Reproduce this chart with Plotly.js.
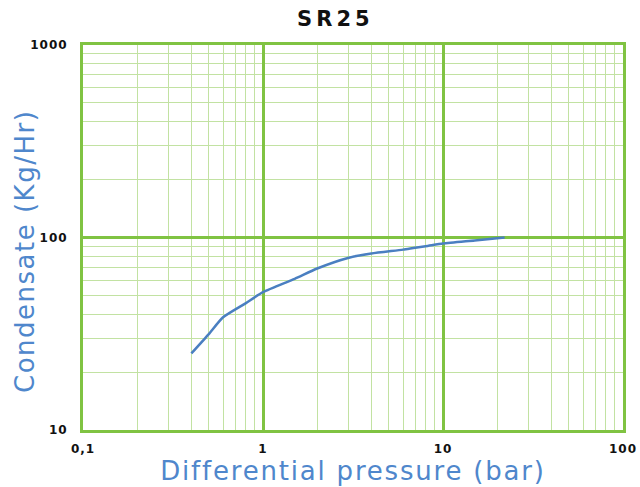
<!DOCTYPE html>
<html><head><meta charset="utf-8">
<script src="https://cdn.plot.ly/plotly-3.0.1.min.js"></script>
<style>
html,body{margin:0;padding:0;background:#fff}#chart{width:640px;height:487px}
.gtitle{letter-spacing:4px}
.xtitle{letter-spacing:1.8px}
.annotation-text{letter-spacing:1.5px}
.xtick text,.ytick text{letter-spacing:1px}
</style>
</head><body><div id="chart"></div>
<script>
const pressure = [0.4, 0.5, 0.6, 0.8, 1.0, 1.5, 2.0, 3.0, 4.0, 6.0, 7.0, 8.0, 10.0, 15.0, 22.0];
const condensate = [25, 31.5, 38.5, 45.5, 52, 61, 69, 78.5, 82.5, 86.5, 88.5, 90, 93, 96.5, 100];
const xTickVals = [0.1, 1, 10, 100];
const xTickText = ["0,1", "1", "10", "100"];
const yTickVals = [10, 100, 1000];
const yTickText = ["10", "100", "1000"];
const yTitle = 'Condensate (Kg/Hr)';
const xTitle = 'Differential pressure (bar)';

const majorGreen = '#80c342';
const minorGreen = '#c2e2a2';
const blue = '#4f87cc';

const trace = {
  x: pressure, y: condensate, type: 'scatter', mode: 'lines',
  line: {color: '#4a7fc1', width: 2.5, shape: 'spline', smoothing: 0.6},
  hoverinfo: 'skip'
};

const axisCommon = {
  type: 'log',
  showline: true, linecolor: majorGreen, linewidth: 3, mirror: true,
  showgrid: true, gridcolor: majorGreen, gridwidth: 3,
  ticks: '', zeroline: false,
  tickfont: {family: 'DejaVu Sans', size: 12, color: '#111', weight: 'bold'},
  minor: {dtick: 'D1', showgrid: true, gridcolor: minorGreen, gridwidth: 1, ticks: ''}
};

const layout = {
  width: 640, height: 487,
  margin: {l: 83, r: 17, t: 45, b: 57},
  paper_bgcolor: '#fff', plot_bgcolor: '#fff',
  showlegend: false,
  title: {text: '<b>SR25</b>', x: 0.524, xanchor: 'center', y: 0.962, yanchor: 'middle',
          font: {family: 'DejaVu Sans', size: 21, color: '#111'}},
  xaxis: Object.assign({}, axisCommon, {
    range: [-1, 2], tickvals: xTickVals, ticktext: xTickText, ticklabelstandoff: 6,
    title: {text: xTitle, standoff: 6,
            font: {family: 'DejaVu Sans', size: 26, color: blue}}
  }),
  yaxis: Object.assign({}, axisCommon, {
    range: [1, 3], tickvals: yTickVals, ticktext: yTickText, ticklabelstandoff: 10
  }),
  annotations: [{
    text: yTitle, xref: 'paper', yref: 'paper',
    x: (25 - 83) / 540, y: (430 - 252) / 385, xanchor: 'center', yanchor: 'middle',
    textangle: -90, showarrow: false,
    font: {family: 'DejaVu Sans', size: 26, color: blue}
  }]
};

Plotly.newPlot('chart', [trace], layout, {staticPlot: true, displayModeBar: false});
</script></body></html>
